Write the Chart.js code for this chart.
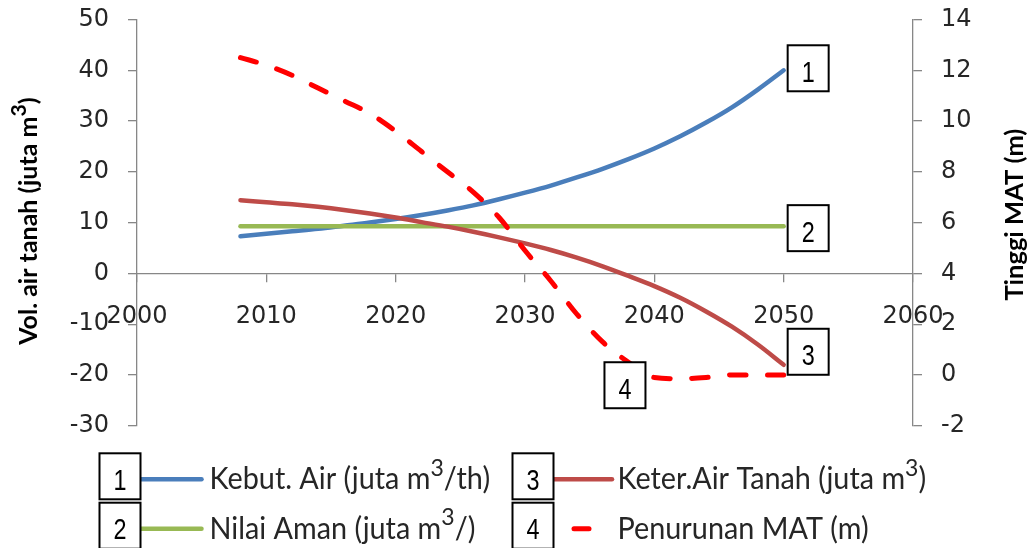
<!DOCTYPE html>
<html>
<head>
<meta charset="utf-8">
<script src="https://cdn.jsdelivr.net/npm/chart.js@4.4.1/dist/chart.umd.min.js"></script>
<style>
  html, body { margin: 0; padding: 0; background: #ffffff; overflow: hidden; }
  #wrap { width: 1034px; height: 548px; }
</style>
</head>
<body>
<div id="wrap"><canvas id="c" width="1034" height="548"></canvas></div>
<script>
// Projection years (every two years)
const years = [2008, 2010, 2012, 2014, 2016, 2018, 2020, 2022, 2024, 2026, 2028,
               2030, 2032, 2034, 2036, 2038, 2040, 2042, 2044, 2046, 2048, 2050];

// Groundwater demand, juta m3/th (left axis)
const kebutuhanAir = [7.3, 7.8, 8.3, 8.8, 9.4, 10.0, 10.7, 11.5, 12.4, 13.4, 14.6,
                      15.9, 17.3, 18.9, 20.6, 22.5, 24.6, 27.0, 29.7, 32.7, 36.2, 40.0];

// Safe yield, juta m3 (left axis)
const nilaiAman = [9.3, 9.3, 9.3, 9.3, 9.3, 9.3, 9.3, 9.3, 9.3, 9.3, 9.3,
                   9.3, 9.3, 9.3, 9.3, 9.3, 9.3, 9.3, 9.3, 9.3, 9.3, 9.3];

// Remaining groundwater availability, juta m3 (left axis)
const ketersediaanAir = [14.4, 14.0, 13.6, 13.1, 12.5, 11.8, 11.0, 10.1, 9.2, 8.2, 7.1,
                         5.9, 4.6, 3.1, 1.4, -0.5, -2.5, -4.8, -7.5, -10.5, -14.0, -18.0];

// Water table height, m (right axis)
const penurunanMAT = [12.5, 12.2, 11.8, 11.3, 10.8, 10.3, 9.6, 8.8, 8.0, 7.2, 6.2,
                      4.9, 3.7, 2.4, 1.3, 0.5, -0.1, -0.15, -0.1, 0.0, 0.0, 0.0];

// Axis ticks
const yearTicks = [2000, 2010, 2020, 2030, 2040, 2050, 2060];
const volTicks = [-30, -20, -10, 0, 10, 20, 30, 40, 50];
const matTicks = [-2, 0, 2, 4, 6, 8, 10, 12, 14];

// Series names and their marker numbers
const seriesNames = ['Kebut. Air (juta m³/th)', 'Nilai Aman (juta m³/)',
                     'Keter.Air Tanah (juta m³)', 'Penurunan MAT (m)'];
const seriesNumbers = ['1', '2', '3', '4'];

// Axis titles
const leftTitle = 'Vol. air tanah (juta m³)';
const rightTitle = 'Tinggi MAT (m)';

const AXIS_GREY = '#878787';
const TEXT_DARK = '#262626';
const TICK_FONT = { family: 'DejaVu Sans', size: 24 };

function points(values) {
  return years.map((yr, i) => ({ x: yr, y: values[i] }));
}

// Text with a raised "3" wherever the string holds "³"; squeezed horizontally by `stretch`.
function drawRich(ctx, text, x, y, o) {
  const parts = text.split('³');
  const fontN = `${o.weight || 'normal'} ${o.size}px ${o.family}`;
  const fontS = `${o.weight || 'normal'} ${o.size * o.supScale}px ${o.family}`;
  ctx.save();
  ctx.translate(x, y);
  if (o.rotate) ctx.rotate(o.rotate);
  ctx.scale(o.stretch || 1, 1);
  let total = 0;
  parts.forEach((p, i) => {
    ctx.font = fontN; total += ctx.measureText(p).width;
    if (i < parts.length - 1) { ctx.font = fontS; total += ctx.measureText('3').width; }
  });
  let cx = o.align === 'center' ? -total / 2 : 0;
  ctx.textAlign = 'left';
  ctx.textBaseline = 'alphabetic';
  ctx.fillStyle = o.color || TEXT_DARK;
  parts.forEach((p, i) => {
    ctx.font = fontN; ctx.fillText(p, cx, 0); cx += ctx.measureText(p).width;
    if (i < parts.length - 1) {
      ctx.font = fontS; ctx.fillText('3', cx, -o.size * o.supRaise);
      cx += ctx.measureText('3').width;
    }
  });
  ctx.restore();
}

function numberBox(ctx, left, top, label) {
  const w = 41, h = 46;
  ctx.save();
  ctx.fillStyle = '#ffffff';
  ctx.fillRect(left, top, w, h);
  ctx.lineWidth = 2;
  ctx.strokeStyle = '#000000';
  ctx.strokeRect(left, top, w, h);
  ctx.translate(left + w / 2, top + 36.5);
  ctx.scale(0.78, 1);
  ctx.font = '30px "Liberation Sans", Arial, sans-serif';
  ctx.textAlign = 'center';
  ctx.textBaseline = 'alphabetic';
  ctx.fillStyle = '#000000';
  ctx.fillText(label, 0, 0);
  ctx.restore();
}

function sampleLine(ctx, ds, x1, x2, y) {
  ctx.save();
  ctx.strokeStyle = ds.borderColor;
  ctx.lineWidth = ds.borderWidth;
  ctx.lineCap = ds.borderCapStyle || 'butt';
  ctx.beginPath();
  ctx.moveTo(x1, y);
  ctx.lineTo(x2, y);
  ctx.stroke();
  ctx.restore();
}

const overlayPlugin = {
  id: 'overlay',
  afterDraw(chart) {
    const ctx = chart.ctx;
    const xs = chart.scales.x, ys = chart.scales.y, y2 = chart.scales.y2;
    const last = years.length - 1;
    const xEnd = xs.getPixelForValue(years[last]);

    // Numbered markers next to the series
    numberBox(ctx, xEnd + 4, ys.getPixelForValue(kebutuhanAir[last]) - 25, seriesNumbers[0]);
    numberBox(ctx, xEnd + 4, ys.getPixelForValue(nilaiAman[last]) - 21, seriesNumbers[1]);
    numberBox(ctx, xEnd + 4, ys.getPixelForValue(ketersediaanAir[last]) - 36, seriesNumbers[2]);
    numberBox(ctx, xs.getPixelForValue(years[15]) - 24, y2.getPixelForValue(penurunanMAT[15]), seriesNumbers[3]);

    // Axis titles
    const midY = (chart.chartArea.top + chart.chartArea.bottom) / 2;
    drawRich(ctx, leftTitle, 36.5, midY - 1.5, {
      size: 25.5, family: 'Lato', weight: 'bold', supScale: 0.85, supRaise: 0.42,
      rotate: -Math.PI / 2, align: 'center', stretch: 0.98, color: '#000000'
    });
    drawRich(ctx, rightTitle, 1023, midY - 8, {
      size: 25.5, family: 'Lato', weight: 'bold', supScale: 0.85, supRaise: 0.42,
      rotate: -Math.PI / 2, align: 'center', stretch: 1, color: '#000000'
    });

    // Legend: two columns, two rows
    const ds = chart.data.datasets;
    const cols = [99.5, 512.5];
    const rowTop = [453.3, 502.7];
    const legendOpts = { size: 30, family: 'Lato', supScale: 0.8, supRaise: 0.45, stretch: 0.96, color: TEXT_DARK };
    [0, 1, 2, 3].forEach(i => {
      const col = i < 2 ? 0 : 1;
      const row = i % 2;
      const bx = cols[col], by = rowTop[row];
      const lineY = by + 26;
      if (i === 3) {
        sampleLine(ctx, ds[i], bx + 61.5, bx + 76.5, lineY);
      } else {
        sampleLine(ctx, ds[i], bx + 41, bx + (col === 0 ? 102 : 99.5), lineY);
      }
      drawRich(ctx, seriesNames[i], bx + (col === 0 ? 110 : 105), by + 36, legendOpts);
      numberBox(ctx, bx, by, seriesNumbers[i]);
    });
  }
};

const tickSetter = list => scale => { scale.ticks = list.map(v => ({ value: v })); };
const fixWidth = w => scale => {
  scale.width = w;
  scale.paddingTop = 0;
  scale.paddingBottom = 0;
};

new Chart(document.getElementById('c'), {
  type: 'line',
  data: {
    datasets: [
      { label: seriesNames[0], data: points(kebutuhanAir), yAxisID: 'y', borderColor: '#4A7EBB',
        borderWidth: 4.5, pointRadius: 0, cubicInterpolationMode: 'monotone', borderCapStyle: 'round', order: 3 },
      { label: seriesNames[1], data: points(nilaiAman), yAxisID: 'y', borderColor: '#98B954',
        borderWidth: 4.5, pointRadius: 0, cubicInterpolationMode: 'monotone', borderCapStyle: 'round', order: 2 },
      { label: seriesNames[2], data: points(ketersediaanAir), yAxisID: 'y', borderColor: '#BE4B48',
        borderWidth: 4.5, pointRadius: 0, cubicInterpolationMode: 'monotone', borderCapStyle: 'round', order: 1 },
      { label: seriesNames[3], data: points(penurunanMAT), yAxisID: 'y2', borderColor: '#FF0000',
        borderWidth: 5, pointRadius: 0, cubicInterpolationMode: 'monotone', borderCapStyle: 'round',
        borderDash: [16.5, 21.5], order: 0 }
    ]
  },
  options: {
    responsive: false,
    animation: false,
    devicePixelRatio: 1,
    layout: { padding: { top: 19.5, bottom: 122.3, left: 0, right: 0 } },
    plugins: { legend: { display: false }, tooltip: { enabled: false } },
    scales: {
      x: {
        type: 'linear', min: 2000, max: 2060,
        position: { y: 0 },
        afterBuildTicks: tickSetter(yearTicks),
        afterFit: s => { s.paddingLeft = 0; s.paddingRight = 0; },
        grid: { drawOnChartArea: false, drawTicks: true, tickLength: 8, color: AXIS_GREY, lineWidth: 1.3 },
        border: { display: true, color: AXIS_GREY, width: 1.3 },
        ticks: { callback: v => String(v), font: TICK_FONT, color: TEXT_DARK, padding: 21,
                 maxRotation: 0, autoSkip: false }
      },
      y: {
        position: 'left', min: -30, max: 50,
        afterBuildTicks: tickSetter(volTicks),
        afterFit: fixWidth(137),
        grid: { drawOnChartArea: false, drawTicks: true, tickLength: 9, color: AXIS_GREY, lineWidth: 1.3 },
        border: { display: true, color: AXIS_GREY, width: 1.3 },
        ticks: { callback: v => String(v), font: TICK_FONT, color: TEXT_DARK, padding: 19 }
      },
      y2: {
        position: 'right', min: -2, max: 14,
        afterBuildTicks: tickSetter(matTicks),
        afterFit: fixWidth(121),
        grid: { drawOnChartArea: false, drawTicks: true, tickLength: 9, color: AXIS_GREY, lineWidth: 1.3 },
        border: { display: true, color: AXIS_GREY, width: 1.3 },
        ticks: { callback: v => String(v), font: TICK_FONT, color: TEXT_DARK, padding: 19 }
      }
    }
  },
  plugins: [overlayPlugin]
});
</script>
</body>
</html>
